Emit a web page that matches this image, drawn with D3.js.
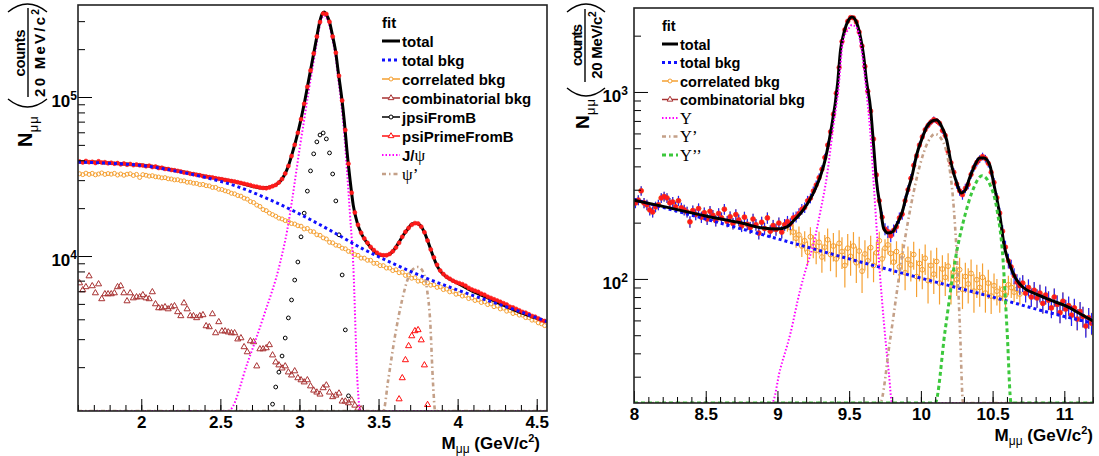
<!DOCTYPE html>
<html>
<head>
<meta charset="utf-8">
<script src="https://cdn.jsdelivr.net/npm/d3@7"></script>
<style>
  body { margin: 0; background: #fff; }
  svg text { font-family: "Liberation Sans", Arial, Helvetica, sans-serif; font-weight: bold; }
</style>
</head>
<body>
<svg id="chart" width="1099" height="456"></svg>
<script>
// ---------------- data : left panel (charmonium) ----------------
const binW = 0.02;

const lBinStart = 1.61;
const lData = [
  39300, 38800, 39600, 38900, 39100, 38500, 39400, 38700, 38900, 38300,
  38600, 38100, 38400, 37700, 38200, 37500, 37900, 37300, 37600, 37200,
  37100, 36700, 37000, 36300, 36500, 35800, 35900, 35300, 35200, 34800,
  34600, 34300, 34000, 33500, 33400, 32900, 32700, 32400, 32200, 31800,
  31600, 31300, 31200, 30800, 30600, 30400, 30100, 29900, 29600, 29400,
  29100, 28800, 28500, 28200, 27900, 27500, 27300, 27000, 26800, 26700,
  27000, 27500, 28000, 29000, 30500, 33000, 36800, 42500, 50000, 59500,
  72500, 90600, 116000, 147000, 188000, 240000, 296000, 335000, 333000, 297000,
  240000, 190000, 136000, 95000, 62000, 38000, 25000, 18800, 15700, 14000,
  12900, 12100, 11400, 10900, 10500, 10200, 10100, 10100, 10300, 10700,
  11300, 12100, 13200, 14200, 15000, 15700, 16100, 16000, 15300, 14100,
  12500, 11000, 9800, 8800, 8100, 7700, 7400, 7200, 7000, 6850,
  6750, 6650, 6500, 6300, 6150, 6050, 5950, 5800, 5700, 5550,
  5450, 5350, 5250, 5150, 5050, 4950, 4800, 4750, 4650, 4550,
  4450, 4400, 4300, 4200, 4150, 4050, 3950, 3900
];
const lCorrBkg = [
  32900, 32500, 33200, 32600, 33100, 32400, 32800, 33300, 32600, 33000,
  32700, 33100, 32300, 32800, 32200, 32700, 32900, 32100, 32600, 31200,
  32500, 32200, 31800, 32000, 31500, 31400, 31000, 31100, 30600, 30500,
  30100, 30200, 29700, 29700, 29100, 29100, 28700, 28600, 28100, 28200,
  27700, 27600, 27000, 27000, 26300, 26200, 25700, 25400, 24800, 24600,
  24000, 23800, 23100, 22800, 22000, 21700, 20900, 20500, 19600, 19300,
  18600, 18200, 17800, 17300, 17100, 16700, 16500, 16000, 15900, 15500,
  15400, 14800, 14900, 14300, 14200, 13600, 13500, 13000, 12800, 12200,
  12100, 11700, 11600, 11200, 11100, 10700, 10600, 10200, 10100, 9700,
  9700, 9400, 9400, 9000, 9000, 8700, 8700, 8400, 8400, 8100,
  8200, 7850, 7900, 7550, 7600, 7250, 7300, 6950, 7000, 6750,
  6800, 6550, 6600, 6350, 6400, 6150, 6200, 5950, 6000, 5750,
  5800, 5600, 5650, 5400, 5450, 5250, 5300, 5100, 5150, 4950,
  5000, 4800, 4850, 4650, 4700, 4500, 4550, 4350, 4400, 4250,
  4250, 4100, 4100, 3950, 3950, 3800, 3750, 3650
];
const lCombBkg = [
  6760, 6110, 6390, 7480, 6480, 5850, 6660, 5370, 5770, 5770,
  5770, 5850, 6390, 6480, 5850, 5210, 5850, 5440, 5520, 5520,
  5690, 5440, 5370, 5940, 4990, 4710, 4710, 4780, 4640, 4780,
  4850, 4450, 4200, 5060, 4640, 4200, 4200, 4080, 4200, 4260,
  3630, 3580, 4320, 3280, 3850, 3370, 3370, 3320, 3280, 3280,
  3000, 3050, 2680, 2490, 2920, 2880, 2030, 2600, 2600, 2640,
  2760, 2380, 2150, 2060, 1970, 2030, 1860, 1780, 1890, 1710,
  1660, 1610, 1660, 1520, 1430, 1390, 1350, 1480, 1540, 1390,
  1300, 1330, 1370, 1220, 1220, 1190, 1240, 1150, 1100, 1090
];
const lJpsiBStart = 2.83;
const lJpsiFromB = [
  1170, 1500, 1860, 2350, 3050, 4080, 5290, 7060, 9170, 13200,
  18600, 25600, 34300, 43900, 52200, 57700, 59400, 54500, 44500, 32800,
  22200, 13600, 7600, 3430, 1320
];
const lPsiPBStart = 3.63;
const lPsiPrimeFromB = [1260, 1710, 2220, 2720, 3140, 3380, 3430, 2960, 2060, 1160];

const lTotalFit = [
  [1.6, 39000], [1.7, 39000], [1.8, 38400], [1.9, 37900], [2.0, 37300], [2.1, 36300],
  [2.2, 34700], [2.3, 33300], [2.4, 31800], [2.5, 30500], [2.6, 29200], [2.7, 27500],
  [2.76, 26800], [2.8, 27000], [2.85, 28000], [2.88, 29600], [2.905, 32300], [2.93, 36800],
  [2.955, 44400], [2.98, 54500], [3.006, 69800], [3.03, 90600], [3.055, 122700], [3.08, 166000],
  [3.106, 228000], [3.125, 288000], [3.143, 332000], [3.156, 342000], [3.168, 332000], [3.19, 297000],
  [3.208, 246000], [3.227, 198000], [3.246, 142000], [3.265, 103000], [3.284, 69800], [3.30, 46400],
  [3.32, 30100], [3.34, 20900], [3.366, 16100], [3.397, 13500], [3.43, 12000], [3.466, 10900],
  [3.51, 10100], [3.55, 10100], [3.59, 10700], [3.625, 12000], [3.656, 13500], [3.69, 15000],
  [3.71, 15900], [3.74, 16100], [3.763, 15600], [3.79, 14100], [3.814, 12200], [3.84, 10300],
  [3.865, 8900], [3.89, 8050], [3.93, 7380], [3.985, 6860], [4.08, 6110], [4.205, 5370],
  [4.33, 4710], [4.455, 4200], [4.565, 3850]
];
const lBkgFit = [
  [1.6, 39000], [1.8, 38300], [2.0, 37100], [2.2, 34500], [2.4, 31300], [2.6, 27500],
  [2.8, 22900], [3.0, 18400], [3.2, 14400], [3.4, 11100], [3.6, 8900], [3.8, 7270],
  [4.0, 6110], [4.2, 5210], [4.4, 4450], [4.565, 3870]
];
const lJpsiFit = [
  [1.6, 1], [2.55, 1], [2.564, 1080], [2.671, 2120], [2.772, 4130], [2.879, 9170],
  [2.923, 14600], [2.955, 23000], [2.98, 34000], [3.006, 51000], [3.03, 72000], [3.055, 104000],
  [3.08, 147000], [3.106, 209000], [3.125, 270000], [3.143, 315000], [3.156, 325000], [3.168, 316000],
  [3.19, 281000], [3.208, 231000], [3.227, 184000], [3.246, 128000], [3.265, 90000], [3.284, 57000],
  [3.30, 35000], [3.32, 18000], [3.34, 8900], [3.366, 1660], [3.385, 1], [4.565, 1]
];
const lPsiPFit = [
  [1.6, 1], [3.53, 1], [3.561, 1660], [3.605, 3180], [3.649, 5290], [3.687, 7270],
  [3.719, 8280], [3.75, 8530], [3.782, 7930], [3.807, 6110], [3.826, 3960], [3.845, 1550],
  [3.858, 1], [4.565, 1]
];

// ---------------- data : right panel (bottomonium) ----------------
const rBinStart = 8.01;
const rData = [
  255, 264, 296, 255, 249, 234, 228, 243, 249, 271,
  276, 271, 255, 258, 243, 262, 240, 234, 228, 202,
  232, 221, 238, 214, 226, 209, 230, 219, 205, 224,
  212, 236, 203, 215, 198, 221, 207, 192, 214, 196,
  188, 209, 195, 176, 201, 186, 212, 180, 193, 184,
  199, 178, 195, 203, 197, 212, 215, 224, 236, 241,
  262, 270, 295, 318, 348, 386, 446, 520, 612, 760,
  985, 1350, 1860, 2150, 2390, 2500, 2490, 2370, 2090, 1760,
  1370, 1010, 790, 560, 360, 262, 214, 185, 179, 170,
  182, 190, 212, 222, 262, 300, 345, 405, 455, 520,
  575, 628, 662, 690, 712, 700, 680, 622, 585, 480,
  418, 372, 322, 296, 282, 305, 320, 362, 395, 420,
  438, 452, 440, 415, 372, 328, 272, 225, 180, 148,
  125, 116, 104, 96, 92, 95, 84, 90, 80, 87,
  79, 84, 74, 82, 77, 70, 80, 73, 66, 76,
  69, 72, 64, 70, 61, 67, 63, 56, 62, 58
];
const rCorrBkg = [
  255, 264, 296, 255, 249, 234, 228, 243, 249, 271,
  276, 271, 255, 258, 243, 262, 240, 234, 228, 202,
  232, 221, 238, 214, 226, 209, 230, 219, 205, 224,
  212, 236, 203, 215, 198, 221, 207, 192, 214, 196,
  188, 209, 195, 176, 201, 186, 212, 180, 193, 184,
  199, 178, 195, 196, 188, 178, 165, 172, 150, 160,
  139, 168, 150, 142, 157, 131, 148, 162, 135, 150,
  128, 155, 140, 118, 146, 132, 150, 122, 141, 110,
  136, 125, 147, 118, 138, 160, 128, 146, 152, 137,
  123, 140, 116, 133, 108, 127, 119, 135, 103, 121,
  112, 129, 98, 118, 106, 124, 95, 113, 102, 117,
  92, 109, 99, 112, 88, 103, 94, 107, 86, 99,
  90, 102, 84, 95, 81, 92, 86, 79, 88, 82,
  93, 90, 85, 88, 83, 95, 84, 90, 80, 87,
  79, 84, 74, 82, 77, 70, 80, 73, 66, 76,
  69, 72, 64, 70, 61, 67, 63, 56, 62, 58
];
const rCorrErr = [
  16, 16, 17, 16, 16, 15, 15, 16, 16, 16,
  17, 16, 16, 16, 16, 16, 15, 15, 15, 14,
  15, 15, 15, 15, 15, 14, 15, 15, 14, 15,
  15, 15, 14, 15, 14, 15, 14, 14, 15, 14,
  14, 14, 14, 13, 14, 14, 15, 13, 14, 14,
  14, 13, 14, 17, 17, 18, 18, 19, 19, 20,
  20, 21, 21, 22, 22, 23, 24, 24, 25, 26,
  26, 27, 27, 28, 28, 28, 28, 27, 27, 26,
  25, 24, 23, 22, 20, 19, 18, 17, 17, 18,
  18, 19, 20, 21, 21, 22, 22, 23, 23, 24,
  24, 24, 24, 24, 23, 23, 22, 21, 21, 20,
  19, 19, 18, 18, 19, 19, 20, 20, 20, 20,
  19, 19, 18, 17, 16, 15, 14, 13, 12, 12,
  11, 11, 10, 10, 10, 10, 9, 9, 9, 9,
  9, 9, 9, 9, 9, 8, 9, 9, 8, 9,
  8, 8, 8, 8, 8, 8, 8, 7, 8, 8
];
const rTotalFit = [
  [8.0, 264], [8.25, 240], [8.5, 217], [8.75, 199], [8.9, 187], [9.0, 185], [9.067, 190],
  [9.11, 204], [9.18, 234], [9.25, 288], [9.32, 397], [9.37, 604], [9.42, 1117], [9.44, 1680],
  [9.46, 2020], [9.48, 2282], [9.50, 2455], [9.52, 2518], [9.54, 2455], [9.56, 2254], [9.58, 1945],
  [9.60, 1578], [9.62, 1159], [9.65, 802], [9.67, 521], [9.69, 338], [9.72, 234], [9.74, 187],
  [9.77, 176], [9.80, 178], [9.83, 194], [9.87, 228], [9.90, 281], [9.94, 360], [9.97, 460],
  [10.01, 568], [10.04, 650], [10.08, 700], [10.11, 709], [10.14, 666], [10.18, 553], [10.21, 417],
  [10.25, 326], [10.28, 288], [10.31, 299], [10.34, 347], [10.38, 412], [10.41, 444], [10.44, 444],
  [10.48, 407], [10.51, 318], [10.55, 220], [10.58, 152], [10.62, 119], [10.66, 101], [10.71, 90.6],
  [10.80, 83.1], [10.90, 77.2], [11.01, 71.7], [11.11, 65.1], [11.2, 59.6]
];
const rBkgFit = [[8.0, 266], [8.5, 209], [9.0, 164], [9.5, 128], [10.0, 101], [10.5, 80], [11.0, 63], [11.2, 58]];
const rY1SFit = [
  [8.0, 1], [8.962, 1], [9.018, 32.6], [9.088, 50.2], [9.158, 87], [9.206, 118], [9.248, 150],
  [9.297, 225], [9.346, 360], [9.388, 640], [9.423, 1000], [9.458, 1880], [9.492, 2150], [9.52, 2280],
  [9.555, 2180], [9.59, 1600], [9.618, 1040], [9.646, 627], [9.674, 299], [9.702, 143], [9.729, 77],
  [9.757, 44], [9.778, 30.7], [9.799, 1], [11.2, 1]
];
const rY2SFit = [
  [8.0, 1], [9.715, 1], [9.785, 47], [9.855, 112], [9.925, 234], [9.994, 407], [10.05, 541],
  [10.099, 596], [10.148, 553], [10.19, 433], [10.225, 264], [10.252, 126], [10.273, 53], [10.294, 1], [11.2, 1]
];
const rY3SFit = [
  [8.0, 1], [10.099, 1], [10.169, 53], [10.239, 126], [10.308, 220], [10.357, 292], [10.427, 356],
  [10.483, 318], [10.531, 234], [10.573, 126], [10.601, 53], [10.629, 1], [11.2, 1]
];

// tick values
const lXMajor = [2, 2.5, 3, 3.5, 4, 4.5];
const lYMajor = [1e4, 1e5];
const rXMajor = [8, 8.5, 9, 9.5, 10, 10.5, 11];
const rYMajor = [1e2, 1e3];

// legend labels
const lLegend = ['total', 'total bkg', 'correlated bkg', 'combinatorial bkg', 'jpsiFromB', 'psiPrimeFromB', 'J/ψ', 'ψ\u2019'];
const rLegend = ['total', 'total bkg', 'correlated bkg', 'combinatorial bkg', 'Υ', 'Υ\u2019', 'Υ\u2019\u2019'];

// ---------------- styles ----------------
const C = {
  total: '#000', bkg: '#1010ff', corr: '#f5a032', comb: '#a83232',
  jpsiB: '#000', psiB: '#ff1010', sig1: '#ff00ff', sig2: '#c4a088', sig3: '#3cc83c', data: '#ff1a1a'
};
const SERIF = '"Liberation Serif", "Times New Roman", serif';

const svg = d3.select('#chart');

function makePanel(cfg) {
  const x = d3.scaleLinear().domain(cfg.xDomain).range([cfg.left, cfg.right]);
  const y = d3.scaleLog().domain(cfg.yDomain).range([cfg.bottom, cfg.top]).clamp(true);
  svg.append('clipPath').attr('id', 'clip-' + cfg.id)
    .append('rect')
    .attr('x', cfg.left).attr('y', cfg.top)
    .attr('width', cfg.right - cfg.left).attr('height', cfg.bottom - cfg.top);
  const g = svg.append('g');
  const plot = g.append('g').attr('clip-path', `url(#clip-${cfg.id})`);
  return { cfg, x, y, g, plot };
}

function curve(p, pts, color, width, dash) {
  const line = d3.line()
    .x(d => p.x(d[0]))
    .y(d => p.y(d[1]))
    .curve(d3.curveMonotoneX);
  p.plot.append('path')
    .attr('d', line(pts))
    .attr('fill', 'none')
    .attr('stroke', color)
    .attr('stroke-width', width)
    .attr('stroke-dasharray', dash || null);
}

function circles(p, vals, start, color, r, filled) {
  p.plot.append('g').selectAll('circle')
    .data(vals)
    .join('circle')
    .attr('cx', (d, i) => p.x(start + i * binW))
    .attr('cy', d => p.y(d))
    .attr('r', r)
    .attr('fill', filled ? color : 'none')
    .attr('stroke', color)
    .attr('stroke-width', filled ? 0.6 : 1);
}

function triangles(p, vals, start, color, size) {
  const sym = d3.symbol(d3.symbolTriangle).size(size);
  p.plot.append('g').selectAll('path')
    .data(vals)
    .join('path')
    .attr('d', sym)
    .attr('transform', (d, i) => `translate(${p.x(start + i * binW)},${p.y(d)})`)
    .attr('fill', 'none')
    .attr('stroke', color)
    .attr('stroke-width', 1);
}

// vertical error bars, errs are absolute errors
function errorBars(p, vals, errs, start, color) {
  p.plot.append('g').selectAll('line')
    .data(vals)
    .join('line')
    .attr('x1', (d, i) => p.x(start + i * binW))
    .attr('x2', (d, i) => p.x(start + i * binW))
    .attr('y1', (d, i) => p.y(d + errs[i]))
    .attr('y2', (d, i) => p.y(Math.max(d - errs[i], 1)))
    .attr('stroke', color)
    .attr('stroke-width', 1.2);
}

function axes(p, xMajor, yMajor, xLabPad, yLabPad) {
  const { cfg, x, y, g } = p;
  const [x0, x1] = cfg.xDomain;
  const xMinor = d3.range(Math.ceil(x0 * 10), Math.floor(x1 * 10 + 1e-6) + 1).map(v => v / 10);
  g.append('g')
    .attr('transform', `translate(0,${cfg.bottom})`)
    .call(d3.axisBottom(x).tickValues(xMinor).tickSize(-6).tickFormat(''))
    .call(a => a.select('.domain').remove());
  const xa = g.append('g')
    .attr('transform', `translate(0,${cfg.bottom})`)
    .call(d3.axisBottom(x).tickValues(xMajor).tickSize(-12).tickPadding(xLabPad).tickFormat(d3.format('')))
    .call(a => a.select('.domain').remove());
  xa.selectAll('text').attr('font-size', 17).attr('fill', '#000');

  const yMinor = y.ticks().filter(v => yMajor.indexOf(v) < 0);
  g.append('g')
    .attr('transform', `translate(${cfg.left},0)`)
    .call(d3.axisLeft(y).tickValues(yMinor).tickSize(-7).tickFormat(''))
    .call(a => a.select('.domain').remove());
  const ya = g.append('g')
    .attr('transform', `translate(${cfg.left},0)`)
    .call(d3.axisLeft(y).tickValues(yMajor).tickSize(-14).tickPadding(yLabPad).tickFormat(''))
    .call(a => a.select('.domain').remove());
  ya.selectAll('.tick text')
    .attr('dy', '0.55em')
    .attr('font-size', 17)
    .attr('fill', '#000')
    .each(function (d) {
      const t = d3.select(this);
      t.append('tspan').text('10');
      t.append('tspan').attr('dy', '-0.55em').attr('font-size', 12).text(String(Math.round(Math.log10(d))));
    });

  // frame
  g.append('rect')
    .attr('x', cfg.left).attr('y', cfg.top)
    .attr('width', cfg.right - cfg.left).attr('height', cfg.bottom - cfg.top)
    .attr('fill', 'none').attr('stroke', '#222').attr('stroke-width', 1.6);

  // x title
  const xt = g.append('text')
    .attr('x', cfg.xTitleX).attr('y', cfg.xTitleY)
    .attr('text-anchor', 'end').attr('font-size', 17);
  xt.append('tspan').text('M');
  xt.append('tspan').attr('dy', 4).attr('font-size', 12).style('font-weight', 'normal').text('μμ');
  xt.append('tspan').attr('dy', -4).text(' (GeV/c');
  xt.append('tspan').attr('dy', -7).attr('font-size', 11).text('2');
  xt.append('tspan').attr('dy', 7).text(')');
}

function yTitle(t) {
  const g = svg.append('g');
  g.append('text').attr('transform', `translate(${t.nX},${t.nY}) rotate(-90)`)
    .attr('font-size', t.nSize).text('N');
  g.append('text').attr('transform', `translate(${t.nX + 6},${t.nY - t.nSize * 0.74}) rotate(-90)`)
    .attr('font-size', 13).style('font-weight', 'normal').attr('letter-spacing', 1).text('μμ');
  g.append('path')
    .attr('d', `M${t.pX0},${t.pBot} Q${(t.pX0 + t.pX1) / 2},${t.pBot + 16} ${t.pX1},${t.pBot}`)
    .attr('fill', 'none').attr('stroke', '#000').attr('stroke-width', 1.4);
  g.append('path')
    .attr('d', `M${t.pX0},${t.pTop} Q${(t.pX0 + t.pX1) / 2},${t.pTop - 16} ${t.pX1},${t.pTop}`)
    .attr('fill', 'none').attr('stroke', '#000').attr('stroke-width', 1.4);
  g.append('text').attr('transform', `translate(${t.numX},${t.midY}) rotate(-90)`)
    .attr('text-anchor', 'middle').attr('font-size', t.fSize)
    .attr('textLength', t.numLen).attr('lengthAdjust', 'spacing')
    .text('counts');
  g.append('line')
    .attr('x1', t.barX).attr('x2', t.barX).attr('y1', t.barY0).attr('y2', t.barY1)
    .attr('stroke', '#000').attr('stroke-width', 1.4);
  const den = g.append('text').attr('transform', `translate(${t.denX},${t.midY}) rotate(-90)`)
    .attr('text-anchor', 'middle').attr('font-size', t.fSize);
  den.append('tspan').attr('textLength', t.denLen).attr('lengthAdjust', 'spacing').text('20 MeV/c');
  den.append('tspan').attr('dy', -6).attr('font-size', t.fSize * 0.68).text('2');
}

function legend(p, L) {
  const g = p.g.append('g');
  g.append('text').attr('x', L.x).attr('y', L.headY).attr('font-size', L.fs).text('fit');
  L.rows.forEach((row, i) => {
    const yy = L.y0 + i * L.dy;
    const xm = (L.x + L.x + L.len) / 2;
    g.append('line')
      .attr('x1', L.x).attr('x2', L.x + L.len).attr('y1', yy).attr('y2', yy)
      .attr('stroke', row.color).attr('stroke-width', row.w)
      .attr('stroke-dasharray', row.dash || null);
    if (row.marker === 'circle') {
      g.append('circle').attr('cx', xm).attr('cy', yy).attr('r', 2)
        .attr('fill', '#fff').attr('stroke', row.color).attr('stroke-width', 1);
    } else if (row.marker === 'triangle') {
      g.append('path').attr('d', d3.symbol(d3.symbolTriangle).size(14)())
        .attr('transform', `translate(${xm},${yy})`)
        .attr('fill', '#fff').attr('stroke', row.color).attr('stroke-width', 1);
    }
    const t = g.append('text').attr('x', L.x + L.len + 2).attr('y', yy + 5.5).attr('font-size', L.fs);
    if (row.serif) {
      t.style('font-family', SERIF).style('font-weight', 'normal')
        .attr('font-size', L.fs + 2).text(row.label);
    } else if (row.label === 'J/ψ') {
      t.append('tspan').text('J/');
      t.append('tspan').style('font-family', SERIF).style('font-weight', 'normal')
        .attr('font-size', L.fs + 2).text('ψ');
    } else {
      t.text(row.label);
    }
  });
}

// ---------------- left panel ----------------
const L = makePanel({
  id: 'l', left: 78, right: 547, top: 5, bottom: 411,
  xDomain: [1.6, 4.565], yDomain: [1060, 379000],
  xTitleX: 540, xTitleY: 449
});
circles(L, lCorrBkg, lBinStart, C.corr, 2, false);
triangles(L, lCombBkg, lBinStart, C.comb, 16);
circles(L, lJpsiFromB, lJpsiBStart, C.jpsiB, 1.9, false);
triangles(L, lPsiPrimeFromB, lPsiPBStart, C.psiB, 16);
curve(L, lJpsiFit, C.sig1, 2, '1.5,2');
curve(L, lPsiPFit, C.sig2, 2.6, '4,3,1.5,3');
curve(L, lTotalFit, C.total, 3);
circles(L, lData, lBinStart, C.data, 2, true);
curve(L, lBkgFit, C.bkg, 3, '3,3');
axes(L, lXMajor, lYMajor, 5, 1);
legend(L, {
  x: 382, len: 18, headY: 28, y0: 41, dy: 19, fs: 15,
  rows: [
    { label: lLegend[0], color: C.total, w: 3 },
    { label: lLegend[1], color: C.bkg, w: 3, dash: '3,3' },
    { label: lLegend[2], color: C.corr, w: 1.5, marker: 'circle' },
    { label: lLegend[3], color: C.comb, w: 1.5, marker: 'triangle' },
    { label: lLegend[4], color: C.jpsiB, w: 1.5, marker: 'circle' },
    { label: lLegend[5], color: C.psiB, w: 1.5, marker: 'triangle' },
    { label: lLegend[6], color: C.sig1, w: 2, dash: '1.5,2' },
    { label: lLegend[7], color: C.sig2, w: 2.6, dash: '4,3,1.5,3', serif: true }
  ]
});
yTitle({
  nX: 32, nY: 147, nSize: 20,
  pX0: 8, pX1: 47, pBot: 99, pTop: 12,
  numX: 25, denX: 45, midY: 53, fSize: 15, numLen: 47, denLen: 80,
  barX: 28, barY0: 8, barY1: 97
});

// ---------------- right panel ----------------
const R = makePanel({
  id: 'r', left: 634, right: 1093, top: 8, bottom: 403,
  xDomain: [8, 11.2], yDomain: [21.7, 2812],
  xTitleX: 1093, xTitleY: 441
});
errorBars(R, rCorrBkg, rCorrErr, rBinStart, C.corr);
circles(R, rCorrBkg, rBinStart, C.corr, 2.4, false);
errorBars(R, rData, rData.map(Math.sqrt), rBinStart, '#2020ff');
circles(R, rData, rBinStart, C.data, 2.3, true);
curve(R, rBkgFit, C.bkg, 3, '3,3');
curve(R, rTotalFit, C.total, 3);
curve(R, rY1SFit, C.sig1, 2, '1.5,2');
curve(R, rY2SFit, C.sig2, 2.6, '4,3,1.5,3');
curve(R, rY3SFit, C.sig3, 3, '4,3');
axes(R, rXMajor, rYMajor, 5, 6);
legend(R, {
  x: 662, len: 16, headY: 31, y0: 44, dy: 18.5, fs: 14.5,
  rows: [
    { label: rLegend[0], color: C.total, w: 3 },
    { label: rLegend[1], color: C.bkg, w: 3, dash: '3,3' },
    { label: rLegend[2], color: C.corr, w: 1.5, marker: 'circle' },
    { label: rLegend[3], color: C.comb, w: 1.5, marker: 'triangle' },
    { label: rLegend[4], color: C.sig1, w: 2, dash: '1.5,2', serif: true },
    { label: rLegend[5], color: C.sig2, w: 2.6, dash: '4,3,1.5,3', serif: true },
    { label: rLegend[6], color: C.sig3, w: 3, dash: '4,3', serif: true }
  ]
});
yTitle({
  nX: 589, nY: 129, nSize: 19,
  pX0: 567, pX1: 605, pBot: 88, pTop: 12,
  numX: 582, denX: 602, midY: 45, fSize: 15, numLen: 42, denLen: 62,
  barX: 585, barY0: 9, barY1: 82
});
</script>
</body>
</html>
